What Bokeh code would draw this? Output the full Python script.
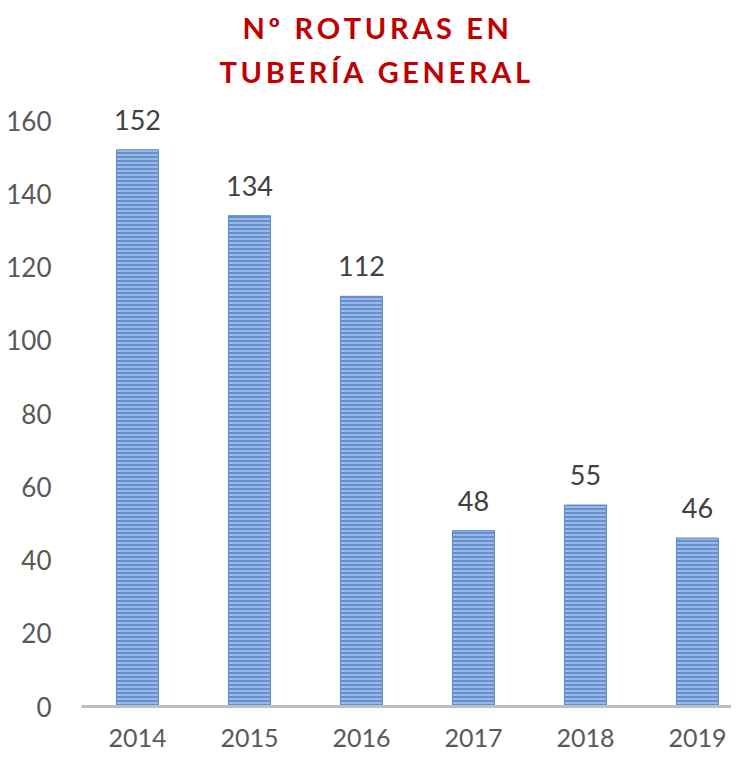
from bokeh.plotting import figure
from bokeh.models import ColumnDataSource, FixedTicker, Title, LabelSet, Range1d
from bokeh.core.properties import value
from bokeh.embed import file_html
from bokeh.resources import INLINE

years = ["2014", "2015", "2016", "2017", "2018", "2019"]
roturas = [152, 134, 112, 48, 55, 46]
y_ticks = [0, 20, 40, 60, 80, 100, 120, 140, 160]
title_line1 = "Nº ROTURAS EN"
title_line2 = "TUBERÍA GENERAL"

HS = "\u2009"
def spaced(s):
    return HS.join(list(s))

xs = list(range(len(years)))
src = ColumnDataSource(dict(x=xs, top=roturas, label=[str(v) for v in roturas]))

p = figure(width=731, height=752, output_backend="svg", toolbar_location=None,
           x_range=Range1d(-0.5, 5.304), y_range=Range1d(0, 166.83),
           min_border_left=81, min_border_right=0, min_border_bottom=46, min_border_top=95)

p.add_layout(Title(text=spaced(title_line2), align="left", offset=138, text_font="Lato",
                   text_font_size="29px", text_font_style="bold", text_color="#c00000",
                   standoff=14), "above")
p.add_layout(Title(text=spaced(title_line1), align="left", offset=161, text_font="Lato",
                   text_font_size="29px", text_font_style="bold", text_color="#c00000",
                   standoff=0), "above")

p.vbar(x="x", top="top", width=0.375, source=src, fill_color="#6290d2",
       line_color="#5a86c6", line_width=1,
       hatch_pattern="horizontal_line", hatch_color="#adc6e8", hatch_scale=4, hatch_weight=1.5)

labels = LabelSet(x="x", y="top", text="label", source=src, y_offset=20,
                  text_align="center", text_baseline="alphabetic",
                  text_font=value("Lato"), text_font_size=value("27px"), text_color="#404040")
p.add_layout(labels)

p.xaxis.ticker = FixedTicker(ticks=xs)
p.xaxis.major_label_overrides = {i: y for i, y in enumerate(years)}
p.xaxis.axis_line_color = "#bfbfbf"
p.xaxis.axis_line_width = 3
p.xaxis.major_tick_line_color = None
p.xaxis.minor_tick_line_color = None
p.xaxis.major_label_standoff = 16
p.xaxis.major_label_text_font = "Lato"
p.xaxis.major_label_text_font_size = "25px"
p.xaxis.major_label_text_color = "#595959"

p.yaxis.ticker = FixedTicker(ticks=y_ticks)
p.yaxis.axis_line_color = None
p.yaxis.major_tick_line_color = None
p.yaxis.minor_tick_line_color = None
p.yaxis.major_label_standoff = 24
p.yaxis.major_label_text_font = "Lato"
p.yaxis.major_label_text_font_size = "26px"
p.yaxis.major_label_text_color = "#595959"

p.xgrid.grid_line_color = None
p.ygrid.grid_line_color = None
p.outline_line_color = None

open("out.html", "w").write(file_html(p, INLINE))
